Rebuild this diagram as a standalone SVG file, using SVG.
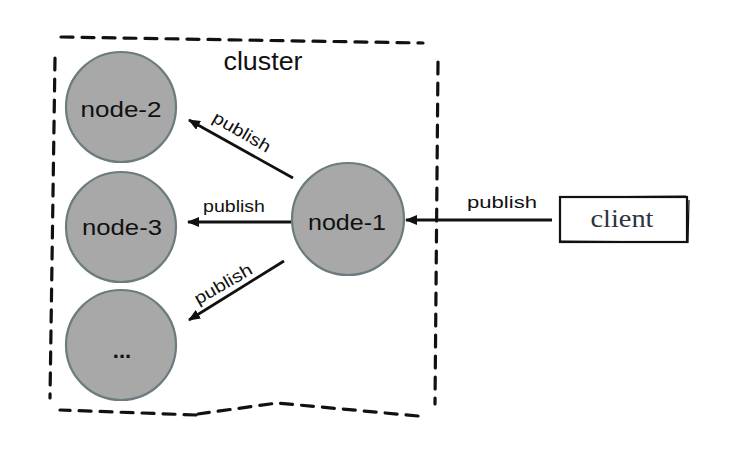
<svg xmlns="http://www.w3.org/2000/svg" width="753" height="452" viewBox="0 0 753 452">
  <style>
    .node circle { fill: #a8a8a8; stroke: #6c7b7d; stroke-width: 2.2; }
    .node text { font-family: "Liberation Sans", Arial, sans-serif; font-size: 22px; fill: #111; text-anchor: middle; }
    .boundary { fill: none; stroke: #111; stroke-width: 3.2; stroke-dasharray: 12 9; stroke-linecap: round; stroke-linejoin: round; }
    .edge { stroke: #111; stroke-width: 2.8; fill: none; }
    .label { font-family: "Liberation Sans", Arial, sans-serif; font-size: 17px; fill: #111; text-anchor: middle; }
    .title { font-family: "Liberation Sans", Arial, sans-serif; font-size: 25px; fill: #111; text-anchor: middle; }
  </style>
  <defs>
    <marker id="arrow" viewBox="0 0 12 10" refX="11" refY="5" markerWidth="12" markerHeight="10" markerUnits="userSpaceOnUse" orient="auto">
      <path d="M0,0 L12,5 L0,10 Z" fill="#111"/>
    </marker>
  </defs>
  <rect width="753" height="452" fill="#fff"/>

  <!-- cluster boundary, hand-drawn dashed outline -->
  <g id="cluster">
    <path class="boundary" d="M61,37 L423,43"/>
    <path class="boundary" d="M438,62 L435,404"/>
    <path class="boundary" d="M418,416 L277,403 L198,414"/>
    <path class="boundary" d="M196,415 L60,410"/>
    <path class="boundary" d="M55,58 L50,398"/>
    <text class="title" x="263" y="70" textLength="79" lengthAdjust="spacingAndGlyphs">cluster</text>
  </g>

  <!-- connectors -->
  <g id="connectors">
    <line class="edge" x1="293" y1="178" x2="189" y2="120" marker-end="url(#arrow)"/>
    <line class="edge" x1="291" y1="222" x2="188" y2="222" marker-end="url(#arrow)"/>
    <line class="edge" x1="284" y1="261" x2="189" y2="320" marker-end="url(#arrow)"/>
    <line class="edge" x1="552" y1="220" x2="406" y2="220" marker-end="url(#arrow)"/>
    <text class="label" transform="translate(239,137) rotate(30)" textLength="64" lengthAdjust="spacingAndGlyphs">publish</text>
    <text class="label" x="234" y="212" textLength="62" lengthAdjust="spacingAndGlyphs">publish</text>
    <text class="label" transform="translate(226,289) rotate(-30)" textLength="64" lengthAdjust="spacingAndGlyphs">publish</text>
    <text class="label" x="502" y="208" font-size="18" textLength="70" lengthAdjust="spacingAndGlyphs">publish</text>
  </g>

  <g id="node-1" class="node">
    <circle cx="348" cy="219" r="56"/>
    <text x="347" y="230" textLength="78" lengthAdjust="spacingAndGlyphs">node-1</text>
  </g>
  <g id="node-2" class="node">
    <circle cx="121" cy="107" r="55"/>
    <text x="121" y="117" textLength="81" lengthAdjust="spacingAndGlyphs">node-2</text>
  </g>
  <g id="node-3" class="node">
    <circle cx="121" cy="227" r="55"/>
    <text x="122" y="235" textLength="80" lengthAdjust="spacingAndGlyphs">node-3</text>
  </g>
  <g id="node-more" class="node">
    <circle cx="121" cy="345" r="55"/>
    <text x="122" y="358" font-weight="bold">...</text>
  </g>

  <!-- client box with a sketchy double edge -->
  <g id="client">
    <rect x="560" y="197" width="127" height="45" fill="#fff" stroke="#111" stroke-width="2.2"/>
    <path d="M563,197 L686,196 M689,200 L688,243 M560,241 L684,242" fill="none" stroke="#111" stroke-width="1.2"/>
    <text x="622" y="227" font-family="Liberation Serif, 'Times New Roman', serif" font-size="25" fill="#2b3440" text-anchor="middle" textLength="63" lengthAdjust="spacingAndGlyphs">client</text>
  </g>
</svg>
